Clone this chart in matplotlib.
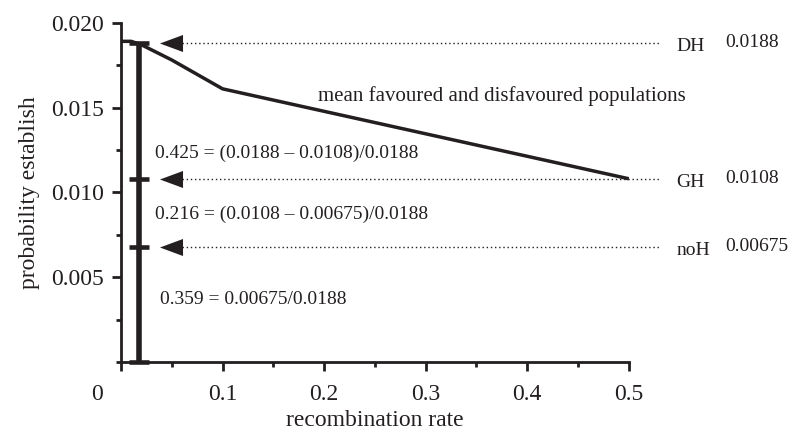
import numpy as np
import matplotlib.pyplot as plt
from matplotlib.ticker import MultipleLocator
from matplotlib.transforms import ScaledTranslation

plt.rcParams['font.family'] = ['Liberation Serif', 'DejaVu Serif']

# mean favoured and disfavoured populations
rec_rate = [0.0, 0.01, 0.02, 0.05, 0.1, 0.5]
p_establish = [0.0189, 0.0189, 0.0187, 0.0178, 0.0161, 0.0108]

# reference levels
level_names = ['DH', 'GH', 'noH']
level_values = [0.0188, 0.0108, 0.00675]
level_labels = ['0.0188', '0.0108', '0.00675']

# fractions written next to the bar
frac_texts = ['0.425 = (0.0188 \u2013 0.0108)/0.0188',
              '0.216 = (0.0108 \u2013 0.00675)/0.0188',
              '0.359 = 0.00675/0.0188']
frac_y = [0.01228, 0.00869, 0.00368]
frac_x = [0.0335, 0.0335, 0.0384]

bar_x = 0.018
ink = '#231f20'

fig = plt.figure(figsize=(7.92, 4.36), dpi=100)
ax = fig.add_axes([0.1528, 0.1697, 0.794 - 0.1528, 0.948 - 0.1697])

ax.plot(rec_rate, p_establish, color=ink, lw=2.5, solid_capstyle='butt')

# the stacked bar with caps
ax.plot([bar_x, bar_x], [0, level_values[0]], color=ink, lw=4, solid_capstyle='butt')
ax.plot([bar_x] * 4, level_values + [0], ls='none', marker='_', ms=14, mew=3.3, color=ink,
        clip_on=False)

# arrows and dotted lines
tri = [(-1, 0), (1, -0.74), (1, 0.74), (-1, 0)]
for name, val, lab in zip(level_names, level_values, level_labels):
    ax.plot([0.0605, 0.53], [val, val], color=ink, lw=1.0, ls=(0, (1, 2.0)), clip_on=False)
    ax.plot([0.049], [val], marker=tri, ms=16.6, color=ink, mew=0, clip_on=False)
    ax.text(0.547, val - 0.0002, name, fontsize=14, va='center', ha='left', color=ink)
    ax.text(0.595, val + 0.00003, lab, fontsize=14, va='center', ha='left', color=ink)

for t, x, y in zip(frac_texts, frac_x, frac_y):
    ax.text(x, y, t, fontsize=14, va='center', ha='left', color=ink)

ax.text(0.194, 0.01565, 'mean favoured and disfavoured populations', fontsize=15,
        va='center', ha='left', color=ink)

ax.set_xlim(0, 0.5)
ax.set_ylim(0, 0.02)
ax.set_xticks([0, 0.1, 0.2, 0.3, 0.4, 0.5])
ax.set_xticklabels(['0', '0.1', '0.2', '0.3', '0.4', '0.5'])
ax.set_yticks([0.005, 0.010, 0.015, 0.020])
ax.set_yticklabels(['0.005', '0.010', '0.015', '0.020'])
ax.xaxis.set_minor_locator(MultipleLocator(0.05))
ax.yaxis.set_minor_locator(MultipleLocator(0.0025))

for s in ['top', 'right']:
    ax.spines[s].set_visible(False)
for s in ['left', 'bottom']:
    ax.spines[s].set_linewidth(2)
    ax.spines[s].set_color(ink)

ax.tick_params(which='major', length=6.5, width=2, labelsize=17, pad=6, color=ink,
               labelcolor=ink)
ax.tick_params(which='minor', length=3.6, width=2, color=ink)
ax.tick_params(axis='x', which='major', pad=9)

# the 0 label sits left of the axis corner
lbl0 = ax.get_xticklabels()[0]
lbl0.set_transform(lbl0.get_transform() + ScaledTranslation(-0.24, 0, fig.dpi_scale_trans))

ax.set_xlabel('recombination rate', fontsize=17, labelpad=4, color=ink)
ax.set_ylabel('probability establish', fontsize=17, labelpad=8, color=ink)

fig.savefig('out.png', dpi=100)
